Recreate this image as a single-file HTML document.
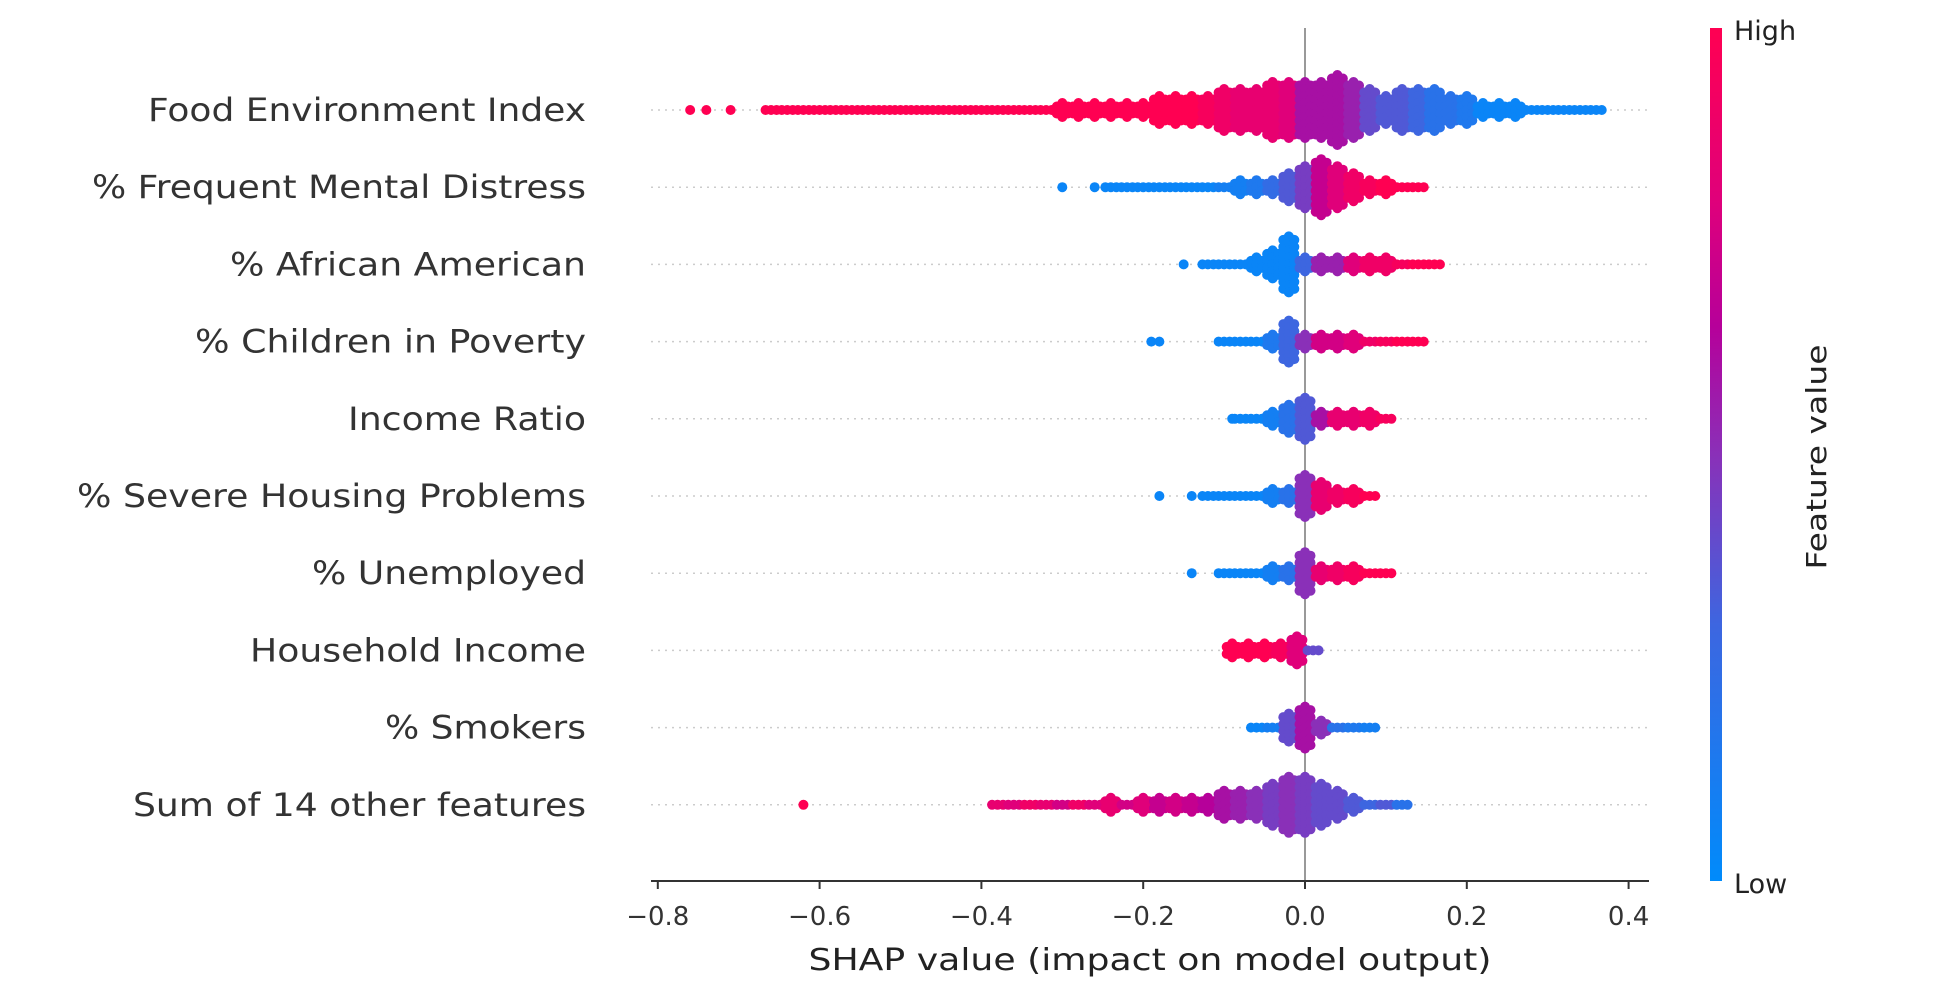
<!DOCTYPE html>
<html><head><meta charset="utf-8">
<style>
html,body{margin:0;padding:0;background:#fff;}
svg{display:block;font-family:"DejaVu Sans","Liberation Sans",sans-serif;}
</style></head>
<body>
<svg id="chart" width="1954" height="994" viewBox="0 0 1954 994">
<defs>
<linearGradient id="cbar" x1="0" y1="1" x2="0" y2="0">
<stop offset="0" stop-color="#008bfb"/><stop offset="0.3" stop-color="#3d66e0"/>
<stop offset="0.5" stop-color="#8a30b8"/><stop offset="0.65" stop-color="#b6009a"/>
<stop offset="0.8" stop-color="#e0007a"/><stop offset="1" stop-color="#ff0052"/>
</linearGradient>
</defs>
<g id="grid"></g>
<line id="zero" x1="1305" y1="28" x2="1305" y2="881" stroke="#999" stroke-width="2"/>
<g id="dots"></g>
<g id="labels"></g>
<line x1="651" y1="881" x2="1649" y2="881" stroke="#333" stroke-width="2"/>
<g id="ticks"></g>
<text x="1150" y="970" text-anchor="middle" font-size="30" textLength="683" lengthAdjust="spacingAndGlyphs" fill="#222">SHAP value (impact on model output)</text>
<rect x="1710" y="28" width="12" height="853" fill="url(#cbar)"/>
<text x="1734" y="40" font-size="27" fill="#222">High</text>
<text x="1734" y="893" font-size="27" fill="#222">Low</text>
<text transform="translate(1826,457) rotate(-90)" text-anchor="middle" font-size="28" textLength="225" lengthAdjust="spacingAndGlyphs" fill="#222">Feature value</text>
</svg>
<script>
const features=["Food Environment Index","% Frequent Mental Distress","% African American","% Children in Poverty","Income Ratio","% Severe Housing Problems","% Unemployed","Household Income","% Smokers","Sum of 14 other features"];
const labelWidths=[438,494,356,391,238,509,274,336,201,453];
const binStart=[-0.66,-0.24,-0.12,-0.10,-0.08,-0.12,-0.10,-0.09,-0.06,-0.38];
const binHeights=[
[0,0,0,0,0,0,0,0,0,0,0,0,0,0, 0,0,0,0,1,1,1,1,1, 1,2,2,2,2,3, 3,3,4,4,4,4,5,4, 3,2,3,3,3,2,2, 1,1,1,0,0,0,0,0],
[0,0,0,0,0,0,0,0,1,1,1,2,3,4,3,2,1,1,0,0],
[0,0,0,1,2,4,1,1,1,1,1,1,0,0,0],
[0,0,0,1,3,1,1,1,1,0,0,0,0],
[0,0,1,2,3,1,1,1,1,0],
[0,0,0,0,1,1,3,2,1,1,0],
[0,0,0,1,1,3,1,1,1,0,0],
[1,1,1,1,2,0],
[0,0,2,3,1,0,0,0],
[0,0,0,0,0,0,0,1,0,1,1,1,1,1,2,2,2,3,4,4,3,2,1,0,0,0]
];
const binColors=[
[1,1,1,1,1,1,1,1,1,1,1,1,1,1, 1,1,1,1,1,1,1,1,1, 1,1,1,1,0.95,0.9, 0.85,0.85,0.85,0.8,0.6,0.6,0.6,0.55, 0.4,0.35,0.35,0.3,0.2,0.2,0.15, 0.05,0.05,0.05,0.05,0.05,0.05,0.05,0.05],
[0.05,0.05,0.05,0.05,0.05,0.05,0.05,0.1,0.1,0.15,0.25,0.35,0.45,0.7,0.8,0.9,0.95,1,1,1],
[0.05,0.05,0.05,0.05,0.05,0.05,0.3,0.55,0.55,0.8,0.9,0.9,0.95,1,1],
[0.05,0.05,0.05,0.15,0.3,0.5,0.75,0.75,0.8,0.9,0.95,1,1],
[0.05,0.05,0.1,0.2,0.35,0.6,0.85,0.85,0.9,0.95],
[0.05,0.05,0.05,0.05,0.1,0.2,0.5,0.85,0.9,0.95,1],
[0.05,0.05,0.05,0.1,0.2,0.5,0.85,0.9,0.95,1,1],
[1,1,1,0.95,0.8,0.4],
[0.05,0.1,0.4,0.6,0.5,0.2,0.15,0.1],
[0.85,0.8,0.9,0.85,0.75,0.9,0.8,0.85,0.75,0.8,0.7,0.75,0.7,0.65,0.6,0.55,0.5,0.45,0.5,0.45,0.4,0.4,0.35,0.3,0.35,0.2]
];
const outlierX=[[-0.76,-0.74,-0.71],[-0.30,-0.26],[-0.15],[-0.19,-0.18],[-0.09],[-0.18,-0.14],[-0.14],[],[],[-0.62]];
const outlierC=[[1,1,1],[0.05,0.05],[0.05],[0.05,0.05],[0.05],[0.05,0.05],[0.05],[],[],[1]];
const tickVals=[-0.8,-0.6,-0.4,-0.2,0.0,0.2,0.4];
const tickLabels=["\u22120.8","\u22120.6","\u22120.4","\u22120.2","0.0","0.2","0.4"];
const binStep=0.02;

const NS="http://www.w3.org/2000/svg";
function xScale(v){return 1305+v*809;}
function yScale(i){return 110+i*77.2;}
const stops=[[0,[0,139,251]],[0.3,[61,102,224]],[0.5,[138,48,184]],[0.65,[182,0,154]],[0.8,[224,0,122]],[1,[255,0,82]]];
function cmap(t){for(let k=1;k<stops.length;k++){if(t<=stops[k][0]){const a=stops[k-1],b=stops[k];const f=(t-a[0])/(b[0]-a[0]);const c=a[1].map((v,j)=>Math.round(v+(b[1][j]-v)*f));return `rgb(${c.join(',')})`;}}return 'rgb(255,0,82)';}
function mk(tag,attrs,parent){const e=document.createElementNS(NS,tag);for(const k in attrs)e.setAttribute(k,attrs[k]);parent.appendChild(e);return e;}
const grid=document.getElementById('grid'),dots=document.getElementById('dots'),labels=document.getElementById('labels'),ticks=document.getElementById('ticks');
const z=document.getElementById('zero');z.setAttribute('x1',xScale(0));z.setAttribute('x2',xScale(0));
features.forEach((f,i)=>{
  const y=yScale(i);
  const g=mk('line',{x1:651,x2:1649,y1:y,y2:y,stroke:'#ccc','stroke-width':1.5,'stroke-dasharray':'2,5'},grid);
  
  
  const t=mk('text',{x:586,y:y+11,'text-anchor':'end','font-size':32,fill:'#333',textLength:labelWidths[i],lengthAdjust:'spacingAndGlyphs'},labels);
  t.textContent=f;
  
  
  const row=mk('g',{},dots);
  
  
  binHeights[i].forEach((h,b)=>{
    const v=binStart[i]+b*binStep;
    const col=cmap(binColors[i][b]);
    for(let c=0;c<3;c++){
      const x=xScale(v)+(c-1)*5.5;
      const ys=[];
      if(c===1||h===0){for(let k=-h;k<=h;k++)ys.push(y+k*7);}
      else{for(let k=-h;k<h;k++)ys.push(y+k*7+3.5);}
      ys.forEach(cy=>{
        const d=mk('circle',{cx:x,cy:cy,r:5,fill:col},row);
        
        
      });
    }
  });
  outlierX[i].forEach((v,k)=>{
    const d=mk('circle',{cx:xScale(v),cy:y,r:5,fill:cmap(outlierC[i][k])},row);
    
    
  });
});
tickVals.forEach((v,k)=>{
  const x=xScale(v);
  const l=mk('line',{x1:x,x2:x,y1:881,y2:889,stroke:'#333','stroke-width':2},ticks);
  
  
  const t=mk('text',{x:x,y:925,'text-anchor':'middle','font-size':26,fill:'#333'},ticks);
  t.textContent=tickLabels[k];
  
  
});
</script>
</body></html>
